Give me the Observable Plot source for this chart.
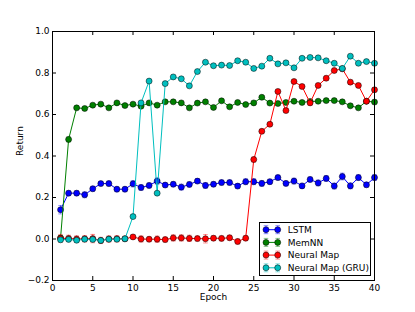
<!DOCTYPE html>
<html>
<head>
<meta charset="utf-8">
<script src="https://cdn.jsdelivr.net/npm/d3@7"></script>
<script src="https://cdn.jsdelivr.net/npm/@observablehq/plot@0.6"></script>
<style>
  html, body { margin: 0; padding: 0; background: white; }
  #chart svg { display: block; }
</style>
</head>
<body>
<div id="chart"></div>
<script>
const epochs = [1,2,3,4,5,6,7,8,9,10,11,12,13,14,15,16,17,18,19,20,21,22,23,24,25,26,27,28,29,30,31,32,33,34,35,36,37,38,39,40];

const lstm = [0.141,0.221,0.221,0.213,0.242,0.267,0.267,0.240,0.240,0.266,
              0.248,0.258,0.279,0.260,0.264,0.250,0.263,0.279,0.258,0.264,
              0.272,0.272,0.255,0.276,0.276,0.268,0.276,0.296,0.268,0.279,
              0.256,0.287,0.270,0.292,0.255,0.301,0.256,0.296,0.261,0.296];
const lstmErr = [0.020,0.012,0.012,0.014,0.012,0.010,0.012,0.012,0.012,0.015,
                 0.014,0.012,0.015,0.010,0.012,0.014,0.012,0.012,0.014,0.012,
                 0.012,0.012,0.012,0.014,0.014,0.014,0.012,0.012,0.012,0.014,
                 0.012,0.012,0.014,0.014,0.014,0.016,0.014,0.014,0.012,0.014];

const memnn = [0.005,0.480,0.632,0.629,0.645,0.650,0.632,0.656,0.643,0.650,
               0.640,0.656,0.645,0.661,0.661,0.656,0.632,0.655,0.661,0.634,
               0.666,0.637,0.658,0.648,0.656,0.683,0.655,0.653,0.658,0.664,
               0.658,0.663,0.664,0.667,0.667,0.661,0.642,0.632,0.664,0.660];
const memnnErr = [0.012,0.012,0.008,0.008,0.008,0.008,0.008,0.008,0.008,0.008,
                  0.008,0.008,0.008,0.008,0.008,0.008,0.008,0.008,0.008,0.008,
                  0.008,0.008,0.008,0.008,0.008,0.008,0.008,0.008,0.008,0.008,
                  0.008,0.008,0.008,0.008,0.008,0.008,0.008,0.008,0.008,0.008];

const neuralMap = [0.003,0.003,0.000,0.001,0.002,-0.007,0.000,0.001,0.001,0.010,
                   0.000,-0.001,-0.001,-0.003,0.005,0.005,0.003,0.002,0.001,0.004,
                   0.003,0.006,-0.012,0.004,0.383,0.519,0.553,0.711,0.619,0.759,
                   0.735,0.656,0.740,0.775,0.812,0.820,0.756,0.740,0.664,0.719];
const neuralMapErr = [0.018,0.015,0.015,0.015,0.020,0.015,0.015,0.015,0.012,0.010,
                      0.015,0.012,0.015,0.012,0.015,0.015,0.015,0.012,0.020,0.012,
                      0.012,0.012,0.012,0.012,0.012,0.010,0.010,0.010,0.010,0.010,
                      0.010,0.010,0.010,0.010,0.010,0.010,0.010,0.010,0.010,0.010];

const gru = [-0.004,-0.002,-0.006,-0.001,-0.002,-0.007,-0.001,-0.001,0.001,0.108,
             0.656,0.761,0.221,0.749,0.781,0.772,0.738,0.807,0.852,0.835,
             0.838,0.836,0.859,0.852,0.822,0.833,0.871,0.844,0.849,0.825,
             0.871,0.875,0.873,0.859,0.847,0.822,0.881,0.847,0.855,0.847];
const gruErr = [0.010,0.010,0.010,0.010,0.010,0.010,0.010,0.010,0.010,0.008,
                0.008,0.008,0.008,0.008,0.008,0.008,0.008,0.008,0.008,0.008,
                0.008,0.008,0.008,0.008,0.008,0.008,0.008,0.008,0.008,0.008,
                0.008,0.008,0.008,0.008,0.008,0.008,0.008,0.008,0.008,0.008];

const seriesNames = ["LSTM", "MemNN", "Neural Map", "Neural Map (GRU)"];
const seriesColors = ["#0000ff", "#008000", "#ff0000", "#00bfbf"];
const seriesValues = [lstm, memnn, neuralMap, gru];
const seriesErrors = [lstmErr, memnnErr, neuralMapErr, gruErr];

const xTicks = [0,5,10,15,20,25,30,35,40];
const yTicks = [-0.2,0.0,0.2,0.4,0.6,0.8,1.0];

const W = 415, H = 312;
const mL = 52, mR = 41, mT = 31, mB = 32;
const plotW = W - mL - mR, plotH = H - mT - mB;
const dotR = 3;

const cap = {draw(ctx, size) { const r = Math.sqrt(size / Math.PI); ctx.moveTo(-r, 0); ctx.lineTo(r, 0); }};

const seriesMarks = [];
seriesNames.forEach((name, i) => {
  const data = epochs.map((e, j) => ({epoch: e, v: seriesValues[i][j], e: seriesErrors[i][j]}));
  const c = seriesColors[i];
  seriesMarks.push(
    Plot.ruleX(data, {x: "epoch", y1: d => d.v - d.e, y2: d => d.v + d.e, stroke: c, strokeOpacity: 0.45, strokeWidth: 1}),
    Plot.dot(data, {x: "epoch", y: d => d.v - d.e, symbol: cap, r: 2.3, stroke: c, strokeOpacity: 0.45, strokeWidth: 1}),
    Plot.dot(data, {x: "epoch", y: d => d.v + d.e, symbol: cap, r: 2.3, stroke: c, strokeOpacity: 0.45, strokeWidth: 1}),
    Plot.line(data, {x: "epoch", y: "v", stroke: c, strokeWidth: 1}),
    Plot.dot(data, {x: "epoch", y: "v", r: dotR, fill: c, stroke: "#000", strokeWidth: 0.5})
  );
});

const fmt = d3.format(".1f");

const chart = Plot.plot({
  width: W, height: H,
  marginLeft: mL, marginRight: mR, marginTop: mT, marginBottom: mB,
  x: {domain: [0, 40]},
  y: {domain: [-0.2, 1.0]},
  style: {fontFamily: "DejaVu Sans", fontSize: "9px", background: "white", color: "black"},
  marks: [
    ...seriesMarks,
    Plot.frame({stroke: "black", strokeWidth: 1}),
    Plot.tickX(xTicks, {x: d => d, insetTop: plotH - 4, stroke: "black"}),
    Plot.tickX(xTicks, {x: d => d, insetBottom: plotH - 4, stroke: "black"}),
    Plot.tickY(yTicks, {y: d => d, insetLeft: plotW - 4, stroke: "black"}),
    Plot.tickY(yTicks, {y: d => d, insetRight: plotW - 4, stroke: "black"}),
    Plot.axisX({ticks: xTicks, tickSize: 0, tickPadding: 4, tickFormat: d => String(d), label: null, fontSize: 9}),
    Plot.axisY({ticks: yTicks, tickSize: 0, tickPadding: 3, tickFormat: fmt, label: null, fontSize: 9}),
    Plot.text(["Epoch"], {frameAnchor: "bottom", dy: 19, text: d => d, fontSize: 9, fill: "black"}),
    Plot.text(["Return"], {frameAnchor: "left", dx: -32, rotate: -90, text: d => d, fontSize: 9, fill: "black"})
  ]
});

document.getElementById("chart").appendChild(chart);

// Legend (inside plot, lower right)
const svg = d3.select(chart);
const lg = svg.append("g").attr("font-family", "DejaVu Sans").attr("font-size", 9).attr("text-anchor", "start");
const bx = 259.5, by = 222.5, bw = 111, bh = 53;
lg.append("rect").attr("x", bx).attr("y", by).attr("width", bw).attr("height", bh)
  .attr("fill", "white").attr("stroke", "black").attr("stroke-width", 1);
seriesNames.forEach((name, i) => {
  const c = seriesColors[i];
  const cy = by + 7.2 + i * 12.7;
  const xa = bx + 6.5, xb = bx + 18.2;
  const g = lg.append("g");
  [xa, xb].forEach(x => {
    g.append("line").attr("x1", x).attr("x2", x).attr("y1", cy - 4).attr("y2", cy + 4)
      .attr("stroke", c).attr("stroke-opacity", 0.45);
    g.append("line").attr("x1", x - 2.3).attr("x2", x + 2.3).attr("y1", cy - 4).attr("y2", cy - 4)
      .attr("stroke", c).attr("stroke-opacity", 0.45);
    g.append("line").attr("x1", x - 2.3).attr("x2", x + 2.3).attr("y1", cy + 4).attr("y2", cy + 4)
      .attr("stroke", c).attr("stroke-opacity", 0.45);
  });
  g.append("line").attr("x1", xa).attr("x2", xb).attr("y1", cy).attr("y2", cy).attr("stroke", c);
  [xa, xb].forEach(x => {
    g.append("circle").attr("cx", x).attr("cy", cy).attr("r", dotR)
      .attr("fill", c).attr("stroke", "#000").attr("stroke-width", 0.5);
  });
  g.append("text").attr("x", bx + 28.2).attr("y", cy).attr("dy", "0.35em")
    .attr("text-anchor", "start").attr("fill", "black").text(name);
});
</script>
</body>
</html>
